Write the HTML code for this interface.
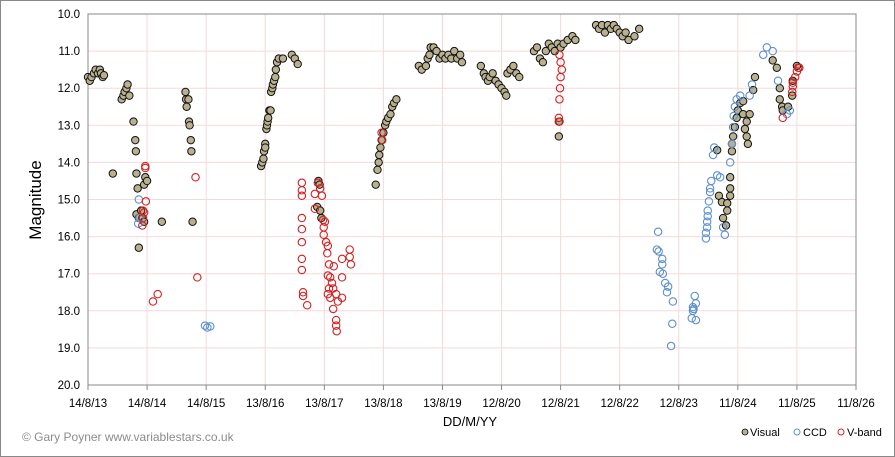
<!DOCTYPE html>
<html><head><meta charset="utf-8"><style>
html,body{margin:0;padding:0;background:#fff}
svg{display:block;font-family:"Liberation Sans",Arial,sans-serif}
</style></head><body>
<svg id="chart" width="895" height="457" viewBox="0 0 895 457" xmlns="http://www.w3.org/2000/svg">
<rect x="0.5" y="0.5" width="894" height="456" fill="#fff" stroke="#888"/>
<g id="grid"></g>
<g id="axes"></g>
<g id="marks"></g>
<text transform="translate(41,200) rotate(-90)" text-anchor="middle" font-size="17" fill="#000">Magnitude</text>
<text x="470" y="426" text-anchor="middle" font-size="13" fill="#000">DD/M/YY</text>
<text x="22" y="441" font-size="12" fill="#8c8c8c">© Gary Poyner  www.variablestars.co.uk</text>
<g font-size="11" fill="#000">
<circle cx="745" cy="432" r="3" fill="#b8b08e" stroke="#000" stroke-width="0.8"/>
<text x="750" y="436">Visual</text>
<circle cx="797" cy="432" r="3" fill="none" stroke="#5b8fd0" stroke-width="1"/>
<text x="803" y="436">CCD</text>
<circle cx="841" cy="432" r="3" fill="none" stroke="#d22" stroke-width="1"/>
<text x="847" y="436">V-band</text>
</g>
</svg>
<script>
const xTickLabels = ["14/8/13","14/8/14","14/8/15","13/8/16","13/8/17","13/8/18","13/8/19","12/8/20","12/8/21","12/8/22","12/8/23","11/8/24","11/8/25","11/8/26"];
const yTickLabels = ["10.0","11.0","12.0","13.0","14.0","15.0","16.0","17.0","18.0","19.0","20.0"];
const visualYears = [0.0,0.03,0.06,0.1,0.13,0.17,0.2,0.22,0.25,0.27,0.42,0.57,0.6,0.62,0.65,0.67,0.7,0.77,0.8,0.81,0.82,0.84,0.82,0.86,0.86,0.9,0.92,0.95,0.97,0.95,1.0,1.25,1.65,1.66,1.67,1.7,1.71,1.72,1.74,1.75,1.77,
2.93,2.95,2.97,2.98,3.0,3.0,3.02,3.03,3.04,3.05,3.07,3.09,3.1,3.12,3.13,3.15,3.17,3.18,3.2,3.23,3.3,3.45,3.5,3.55,3.9,3.92,3.88,3.93,3.95,
4.87,4.9,4.92,4.93,4.95,4.97,5.0,5.03,5.05,5.08,5.12,5.15,5.18,5.22,
5.6,5.65,5.72,5.75,5.78,5.8,5.85,5.9,5.95,6.0,6.05,6.1,6.15,6.2,6.25,6.3,6.33,
6.65,6.7,6.73,6.77,6.8,6.85,6.9,6.95,7.0,7.05,7.08,7.1,7.15,7.2,7.25,7.3,
7.55,7.6,7.65,7.7,7.75,7.8,7.85,7.9,7.95,8.0,8.05,8.12,8.2,8.25,7.97,7.98,
8.6,8.65,8.7,8.75,8.8,8.85,8.9,8.95,9.0,9.05,9.1,9.15,9.25,9.33,
10.65,10.68,10.73,10.82,10.75,10.8,10.82,10.87,10.87,10.87,10.9,10.9,10.92,10.95,10.98,11.0,11.04,11.09,11.09,11.12,11.15,11.17,11.2,11.15,11.26,11.29,11.59,11.66,11.71,11.71,11.75,11.76,11.85,11.92,12.0,11.93];
const visualMags = [11.7,11.8,11.7,11.6,11.5,11.6,11.5,11.6,11.7,11.65,14.3,12.3,12.2,12.1,12.0,11.9,12.2,12.9,13.4,13.7,14.3,14.7,15.4,15.5,16.3,15.3,15.5,15.6,14.4,14.6,14.5,15.6,12.1,12.3,12.5,12.3,12.9,13.0,13.4,13.7,15.6,
14.1,14.0,13.9,13.7,13.5,13.6,13.1,13.0,12.9,12.8,12.6,12.6,12.1,12.0,11.9,11.8,11.7,11.5,11.3,11.2,11.2,11.1,11.2,11.35,14.5,14.6,15.2,15.3,15.5,
14.6,14.2,14.0,13.8,13.6,13.4,13.2,13.0,12.9,12.8,12.7,12.5,12.4,12.3,
11.4,11.5,11.4,11.2,11.1,10.9,10.9,11.0,11.2,11.1,11.2,11.1,11.2,11.0,11.2,11.1,11.3,
11.4,11.6,11.7,11.8,11.7,11.6,11.8,11.9,12.0,12.1,12.2,11.6,11.5,11.4,11.6,11.7,
11.0,10.9,11.2,11.3,11.0,10.8,10.9,11.0,10.8,10.9,10.8,10.7,10.6,10.7,13.3,12.9,
10.3,10.4,10.3,10.5,10.3,10.4,10.3,10.4,10.5,10.6,10.5,10.7,10.6,10.4,
13.67,14.9,15.07,15.1,15.5,15.7,15.3,14.4,14.7,14.9,13.7,13.5,13.3,13.05,12.8,12.6,12.4,12.35,12.7,13.1,13.3,13.5,12.7,12.9,12.05,11.7,11.25,11.45,12.0,12.3,12.5,12.6,12.5,12.2,11.4,11.8];
const ccdYears = [0.86,0.85,0.87,1.98,2.02,2.07,
9.65,9.63,9.66,9.72,9.72,9.68,9.73,9.77,9.82,9.8,9.9,9.89,9.87,
10.27,10.29,10.24,10.24,10.22,10.29,10.25,
10.46,10.46,10.48,10.48,10.49,10.49,10.51,10.53,10.53,10.55,10.65,10.7,10.58,10.6,10.75,10.78,10.87,10.9,10.92,10.93,10.95,10.98,11.04,11.24,11.2,11.43,11.49,11.59,11.68,11.83,11.88];
const ccdMags = [15.0,15.65,15.5,18.4,18.45,18.42,
15.87,16.35,16.4,16.6,16.75,16.95,17.0,17.25,17.35,17.5,17.75,18.35,18.95,
17.6,17.8,17.9,18.0,18.2,18.25,17.95,
16.05,15.9,15.75,15.6,15.45,15.3,15.05,14.8,14.7,14.5,14.35,14.4,13.8,13.6,15.75,15.95,14.0,13.5,13.05,12.75,12.5,12.3,12.2,11.9,12.2,11.1,10.9,11.0,11.8,12.7,12.6];
const vbandYears = [0.97,0.97,0.93,0.95,0.93,0.92,0.98,1.1,1.18,1.82,1.85,
3.62,3.62,3.62,3.62,3.62,3.62,3.62,3.62,3.64,3.64,3.71,
3.89,3.93,3.84,3.96,3.84,3.98,4.01,3.99,3.99,4.03,4.06,4.05,4.08,4.06,4.1,4.13,4.08,4.15,4.06,4.1,4.2,4.23,4.3,4.15,4.2,4.2,4.21,4.16,4.3,4.3,4.43,4.43,4.45,
4.97,4.98,7.98,8.0,8.02,8.0,7.99,7.98,7.97,7.97,
12.02,12.0,11.97,11.93,11.93,11.92,11.76,12.04];
const vbandMags = [14.1,14.15,15.3,15.35,15.5,15.7,15.05,17.75,17.55,14.4,17.1,
14.55,14.75,14.9,15.5,15.8,16.15,16.6,16.9,17.5,17.6,17.85,
14.55,14.7,14.85,14.9,15.25,15.55,15.6,15.75,15.95,16.15,16.25,16.45,16.75,17.05,17.1,17.25,17.4,17.4,17.55,17.65,17.55,17.75,17.65,17.95,18.25,18.4,18.55,16.8,17.1,16.6,16.35,16.55,16.75,
13.2,13.4,11.1,11.3,11.5,11.7,12.0,12.3,12.9,12.8,
11.45,11.55,11.7,11.85,11.95,12.1,12.8,11.45];

const L=88,R=856,T=14,B=385;
const xScale=v=>L+v*(R-L)/(xTickLabels.length-1);
const yScale=m=>T+(m-10)*(B-T)/10;
const NS="http://www.w3.org/2000/svg";
function mk(tag,parent,attrs){const e=document.createElementNS(NS,tag);for(const k in attrs)e.setAttribute(k,attrs[k]);parent.appendChild(e);return e;}
const grid=document.getElementById('grid'),axes=document.getElementById('axes'),marks=document.getElementById('marks');
yTickLabels.forEach((lab,i)=>{
  const y=yScale(parseFloat(lab));
  const g=mk('line',grid,{x1:L,x2:R,y1:y,y2:y,stroke:'#f6d9d9','stroke-width':1});
  
  
  const t=mk('text',axes,{x:L-8,y:y+4,'text-anchor':'end','font-size':11.5,fill:'#000'});
  t.textContent=lab;
  
  
});
xTickLabels.forEach((lab,i)=>{
  const x=xScale(i);
  const g=mk('line',grid,{x1:x,x2:x,y1:T,y2:B,stroke:'#f6d9d9','stroke-width':1});
  
  
  const tk=mk('line',axes,{x1:x,x2:x,y1:B,y2:B+5,stroke:'#888'});
  
  
  const t=mk('text',axes,{x:x,y:B+22,'text-anchor':'middle','font-size':11.5,fill:'#000'});
  t.textContent=lab;
  
  
});
const box=mk('rect',axes,{x:L,y:T,width:R-L,height:B-T,fill:'none',stroke:'#888'});


function series(xs,ys,fill,stroke,sw,name){
  xs.forEach((v,i)=>{
    const c=mk('circle',marks,{cx:xScale(v),cy:yScale(ys[i]),r:3.7,fill:fill,stroke:stroke,'stroke-width':sw});
    
    
  });
}
series(visualYears,visualMags,'#b8b08e','#111',1,'visual-point');
series(ccdYears,ccdMags,'none','#5b8fd0',1.1,'ccd-point');
series(vbandYears,vbandMags,'none','#d42020',1.1,'vband-point');
</script>
</body></html>
